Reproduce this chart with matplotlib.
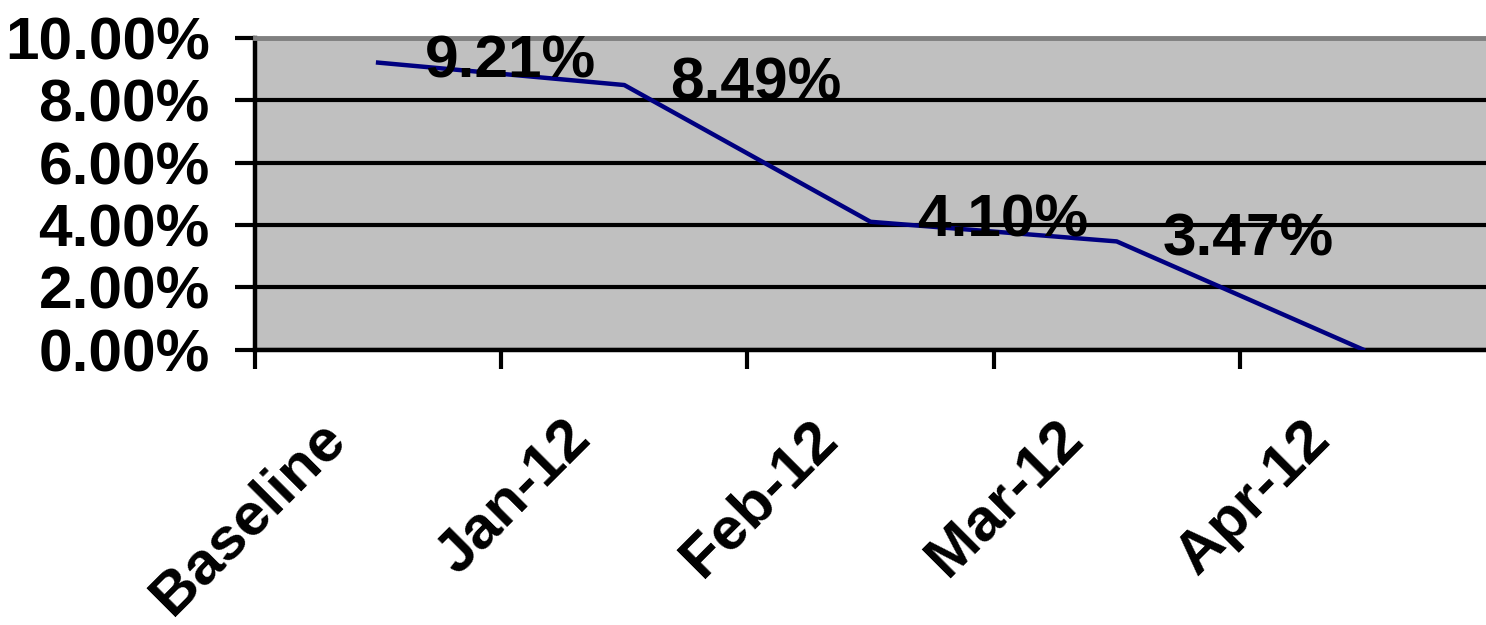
import matplotlib
matplotlib.use("Agg")
import matplotlib.pyplot as plt
from matplotlib.transforms import ScaledTranslation
import numpy as np

# chart data (percent)
categories = ['Baseline', 'Jan-12', 'Feb-12', 'Mar-12', 'Apr-12']
rates = [9.21, 8.49, 4.10, 3.47, 0.0]
point_labels = ['9.21%', '8.49%', '4.10%', '3.47%', '']
y_ticks = [0, 2, 4, 6, 8, 10]

plt.rcParams['font.family'] = ['Liberation Sans', 'DejaVu Sans']
plt.rcParams['font.weight'] = 'bold'
FS = 43.5

fig = plt.figure(figsize=(14.86, 6.25), dpi=100)
ax = fig.add_axes([255 / 1486, 1 - 349.5 / 625, 1 - 255 / 1486, (349.5 - 38) / 625])
ax.set_facecolor('#c0c0c0')

x = np.arange(len(categories))
ax.plot(x, rates, color='#000080', lw=3.2, zorder=3)

# data labels sit off to the right of each point, like the original
for xi, yi, txt in zip(x, rates, point_labels):
    if txt:
        ax.annotate(txt, xy=(xi, yi), xytext=(132, 7), textcoords='offset pixels',
                    ha='center', va='center_baseline', fontsize=FS, fontweight='bold',
                    zorder=4, annotation_clip=False)

ax.set_xlim(-0.5, len(categories) - 0.5)
ax.set_ylim(0, 10)

# y axis
ax.set_yticks(y_ticks)
ax.set_yticklabels(['%.2f%%' % v for v in y_ticks], fontsize=FS, fontweight='bold')
ax.yaxis.grid(True, color='black', lw=3)
ax.set_axisbelow(True)
ax.tick_params(axis='y', direction='out', length=14.4, width=3, pad=18)

# x axis: ticks on category boundaries, labels in the middle
ax.set_xticks(np.arange(len(categories)) - 0.5)
ax.set_xticklabels([])
ax.set_xticks(x, minor=True)
ax.set_xticklabels(categories, minor=True, rotation=45, ha='right', va='center',
                   rotation_mode='anchor', fontsize=FS, fontweight='bold')
ax.tick_params(axis='x', which='major', direction='out', length=13.7, width=3)
ax.tick_params(axis='x', which='minor', length=0, pad=58)
shift = ScaledTranslation(-0.42, 0, fig.dpi_scale_trans)
for lbl in ax.get_xticklabels(minor=True):
    lbl.set_transform(lbl.get_transform() + shift)

for side in ['left', 'bottom']:
    ax.spines[side].set_linewidth(3.2)
    ax.spines[side].set_color('black')
ax.spines['top'].set_color('#808080')
ax.spines['top'].set_linewidth(3.5)
ax.spines['right'].set_visible(False)

fig.savefig('out.png', dpi=100)
